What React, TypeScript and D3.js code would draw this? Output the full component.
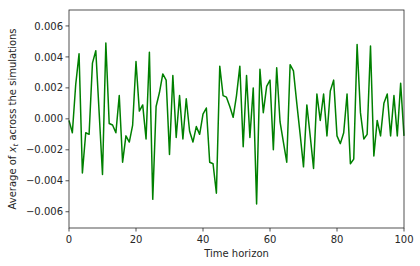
import React from "react";
import * as d3 from "d3";

const timeSteps: number[] = d3.range(0, 101);
const avgValues: number[] = [
  -0.0001, -0.0009, 0.0022, 0.0042, -0.0035, -0.0009, -0.001, 0.0036, 0.0044, 0.0004,
  -0.0036, 0.0049, -0.0003, -0.0004, -0.0009, 0.0015, -0.0028, -0.0011, -0.0015, -0.0004,
  0.0037, 0.0005, 0.0009, -0.0013, 0.0043, -0.0052, 0.0008, 0.0017, 0.0029, 0.0025,
  -0.0023, 0.0028, -0.0012, 0.0015, -0.0013, 0.0013, -0.0008, -0.0015, -0.0005, -0.001,
  0.0003, 0.0007, -0.0028, -0.0029, -0.0048, 0.0034, 0.0015, 0.0014, 0.0008, 0.0001,
  0.0015, 0.0034, -0.0018, 0.0028, -0.0012, 0.002, -0.0055, 0.0032, 0.0004, 0.0021,
  0.0025, -0.002, 0.0033, -0.0002, -0.0015, -0.0028, 0.0035, 0.0031, 0.001, -0.001,
  -0.0031, 0.0009, -0.0011, -0.0032, 0.0016, -0.0001, 0.0016, -0.0011, 0.0018, 0.0025,
  -0.0011, -0.0016, -0.0009, 0.0016, -0.0029, -0.0026, 0.0048, 0.0004, -0.0013, -0.001,
  0.0047, -0.0024, -0.0001, -0.0011, 0.001, 0.0016, -0.0011, 0.0015, -0.0011, 0.0023,
  -0.0011,
];
const xTicks: number[] = [0, 20, 40, 60, 80, 100];
const yTicks: number[] = [-0.006, -0.004, -0.002, 0, 0.002, 0.004, 0.006];
const xDomain: [number, number] = [0, 100];
const yDomain: [number, number] = [-0.00705, 0.00703];

export default function App() {
  const W = 420, H = 266;
  const L = 69, R = 404, T = 10, B = 228;
  const x = d3.scaleLinear().domain(xDomain).range([L, R]);
  const y = d3.scaleLinear().domain(yDomain).range([B, T]);
  const line = d3
    .line<number>()
    .x((_, i) => x(timeSteps[i]))
    .y((d) => y(d));
  const fmtY = (v: number) => {
    const s = Math.abs(v).toFixed(3);
    return (v < -1e-12 ? "\u2212" : "") + s;
  };
  const font = "DejaVu Sans, sans-serif";
  const textColor = "#262626";
  return (
    <svg
      width={W}
      height={H}
      style={{ position: "absolute", left: 0, top: 0, background: "#fff" }}
      fontFamily={font}
    >
      <rect x={0} y={0} width={W} height={H} fill="#fff" />
      <path
        d={line(avgValues) || ""}
        fill="none"
        stroke="#008000"
        strokeWidth={1.5}
        strokeLinejoin="round"
      />
      <rect x={L} y={T} width={R - L} height={B - T} fill="none" stroke="#262626" strokeWidth={0.8} />
      {xTicks.map((t) => (
        <g key={"x" + t}>
          <line x1={x(t)} x2={x(t)} y1={B} y2={B + 3.5} stroke="#262626" strokeWidth={0.8} />
          <text x={x(t)} y={B + 15} textAnchor="middle" fontSize={10} fill={textColor}>
            {t}
          </text>
        </g>
      ))}
      {yTicks.map((t) => (
        <g key={"y" + t}>
          <line x1={L - 3.5} x2={L} y1={y(t)} y2={y(t)} stroke="#262626" strokeWidth={0.8} />
          <text x={L - 6} y={y(t) + 3.6} textAnchor="end" fontSize={10} fill={textColor}>
            {fmtY(t)}
          </text>
        </g>
      ))}
      <text x={(L + R) / 2} y={257} textAnchor="middle" fontSize={10} fill={textColor}>
        Time horizon
      </text>
      <text
        transform={`translate(16, ${(T + B) / 2}) rotate(-90)`}
        textAnchor="middle"
        fontSize={10}
        fill={textColor}
      >
        Average of <tspan fontStyle="italic">x</tspan>
        <tspan fontStyle="italic" fontSize={7} dy={2}>t</tspan>
        <tspan dy={-2}> across the simulations</tspan>
      </text>
    </svg>
  );
}
